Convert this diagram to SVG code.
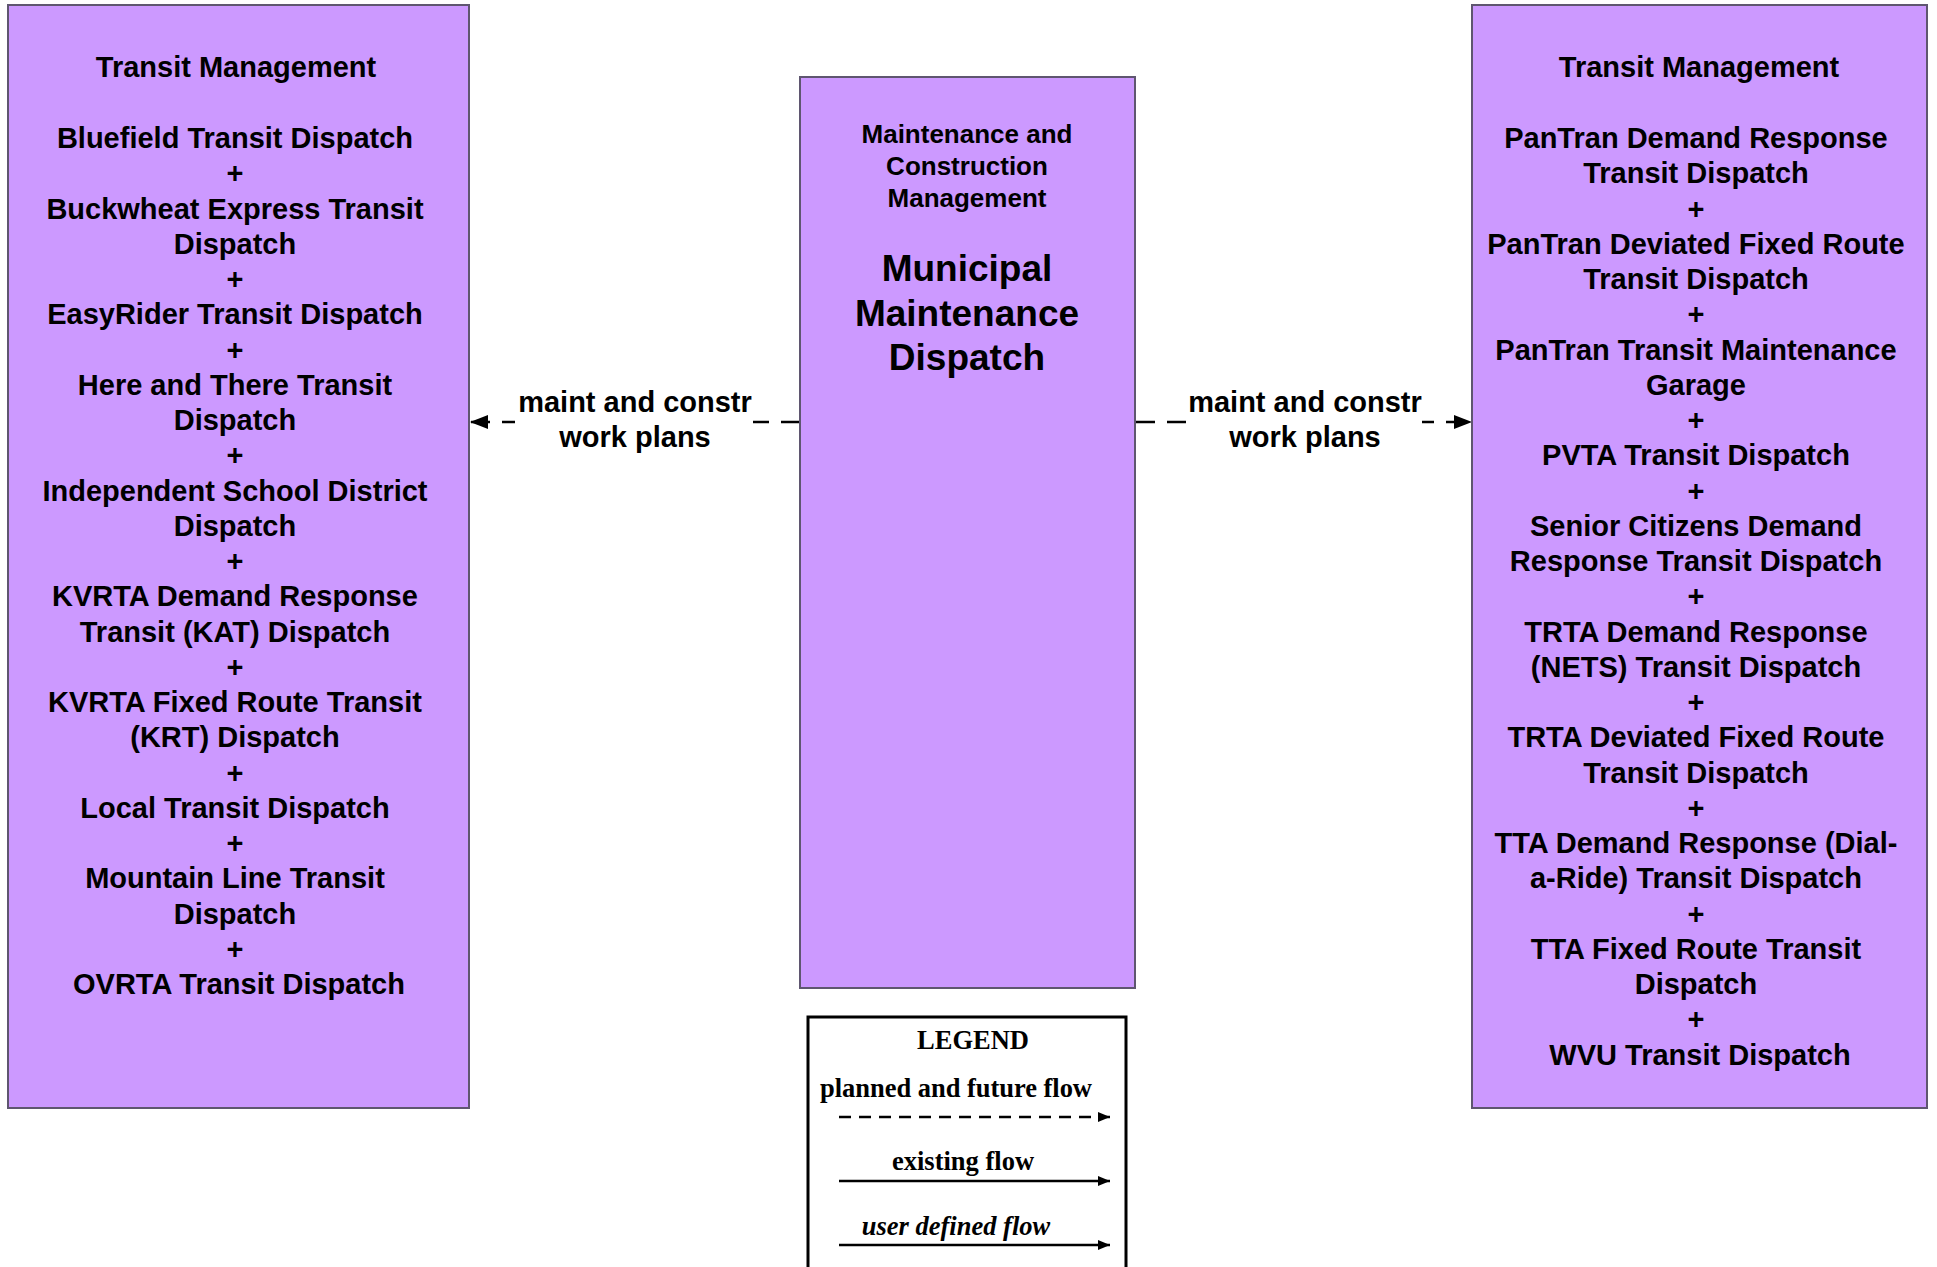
<svg xmlns="http://www.w3.org/2000/svg" width="1937" height="1267" viewBox="0 0 1937 1267">
<style>
.box{fill:#CC99FF;stroke:#5f5670;stroke-width:2}
.t{font-family:"Liberation Sans",Arial,sans-serif;font-weight:bold;font-size:29px;fill:#000;text-anchor:middle}
.sub{font-size:26px}
.big{font-size:37px}
.flow{fill:none;stroke:#000;stroke-width:2.5;stroke-dasharray:19,12}
.lbg{fill:#fff}
.lg{font-family:"Liberation Serif","Times New Roman",serif;font-weight:bold;font-size:26.5px;fill:#000;text-anchor:middle}
</style>
<defs>
<marker id="ah" viewBox="0 0 18 14" refX="18" refY="7" markerWidth="18" markerHeight="14" markerUnits="userSpaceOnUse" orient="auto">
<path d="M0,0 L18,7 L0,14 Z" fill="#000"/>
</marker>
<marker id="sah" viewBox="0 0 12 10" refX="12" refY="5" markerWidth="12" markerHeight="10" markerUnits="userSpaceOnUse" orient="auto">
<path d="M0,0 L12,5 L0,10 Z" fill="#000"/>
</marker>
</defs>
<rect width="1937" height="1267" fill="#fff"/>

<g id="connectors">
<g id="flow-left">
<path class="flow" d="M800,422 L470,422" marker-end="url(#ah)"/>
<rect class="lbg" x="515" y="386" width="238" height="70"/>
<text class="t"><tspan x="635" y="412">maint and constr</tspan><tspan x="635" y="447">work plans</tspan></text>
</g>
<g id="flow-right">
<path class="flow" d="M1136,422 L1472,422" marker-end="url(#ah)"/>
<rect class="lbg" x="1187" y="386" width="235" height="70"/>
<text class="t"><tspan x="1305" y="412">maint and constr</tspan><tspan x="1305" y="447">work plans</tspan></text>
</g>
</g>

<g id="node-left">
<rect class="box" x="8" y="5" width="461" height="1103"/>
<text class="t"><tspan x="240" y="77">Transit Management</tspan>
<tspan x="239" y="148">Bluefield Transit Dispatch</tspan>
<tspan x="239" dy="35.25">+</tspan>
<tspan x="239" dy="35.25">Buckwheat Express Transit</tspan>
<tspan x="239" dy="35.25">Dispatch</tspan>
<tspan x="239" dy="35.25">+</tspan>
<tspan x="239" dy="35.25">EasyRider Transit Dispatch</tspan>
<tspan x="239" dy="35.25">+</tspan>
<tspan x="239" dy="35.25">Here and There Transit</tspan>
<tspan x="239" dy="35.25">Dispatch</tspan>
<tspan x="239" dy="35.25">+</tspan>
<tspan x="239" dy="35.25">Independent School District</tspan>
<tspan x="239" dy="35.25">Dispatch</tspan>
<tspan x="239" dy="35.25">+</tspan>
<tspan x="239" dy="35.25">KVRTA Demand Response</tspan>
<tspan x="239" dy="35.25">Transit (KAT) Dispatch</tspan>
<tspan x="239" dy="35.25">+</tspan>
<tspan x="239" dy="35.25">KVRTA Fixed Route Transit</tspan>
<tspan x="239" dy="35.25">(KRT) Dispatch</tspan>
<tspan x="239" dy="35.25">+</tspan>
<tspan x="239" dy="35.25">Local Transit Dispatch</tspan>
<tspan x="239" dy="35.25">+</tspan>
<tspan x="239" dy="35.25">Mountain Line Transit</tspan>
<tspan x="239" dy="35.25">Dispatch</tspan>
<tspan x="239" dy="35.25">+</tspan>
<tspan x="239" dy="35.25">OVRTA Transit Dispatch</tspan>
</text>
</g>

<g id="node-center">
<rect class="box" x="800" y="77" width="335" height="911"/>
<text class="t sub"><tspan x="967" y="143">Maintenance and</tspan><tspan x="967" y="175">Construction</tspan><tspan x="967" y="207">Management</tspan></text>
<text class="t big"><tspan x="967" y="281">Municipal</tspan><tspan x="967" y="325.5">Maintenance</tspan><tspan x="967" y="370">Dispatch</tspan></text>
</g>

<g id="node-right">
<rect class="box" x="1472" y="5" width="455" height="1103"/>
<text class="t"><tspan x="1703" y="77">Transit Management</tspan>
<tspan x="1700" y="148">PanTran Demand Response</tspan>
<tspan x="1700" dy="35.25">Transit Dispatch</tspan>
<tspan x="1700" dy="35.25">+</tspan>
<tspan x="1700" dy="35.25">PanTran Deviated Fixed Route</tspan>
<tspan x="1700" dy="35.25">Transit Dispatch</tspan>
<tspan x="1700" dy="35.25">+</tspan>
<tspan x="1700" dy="35.25">PanTran Transit Maintenance</tspan>
<tspan x="1700" dy="35.25">Garage</tspan>
<tspan x="1700" dy="35.25">+</tspan>
<tspan x="1700" dy="35.25">PVTA Transit Dispatch</tspan>
<tspan x="1700" dy="35.25">+</tspan>
<tspan x="1700" dy="35.25">Senior Citizens Demand</tspan>
<tspan x="1700" dy="35.25">Response Transit Dispatch</tspan>
<tspan x="1700" dy="35.25">+</tspan>
<tspan x="1700" dy="35.25">TRTA Demand Response</tspan>
<tspan x="1700" dy="35.25">(NETS) Transit Dispatch</tspan>
<tspan x="1700" dy="35.25">+</tspan>
<tspan x="1700" dy="35.25">TRTA Deviated Fixed Route</tspan>
<tspan x="1700" dy="35.25">Transit Dispatch</tspan>
<tspan x="1700" dy="35.25">+</tspan>
<tspan x="1700" dy="35.25">TTA Demand Response (Dial-</tspan>
<tspan x="1700" dy="35.25">a-Ride) Transit Dispatch</tspan>
<tspan x="1700" dy="35.25">+</tspan>
<tspan x="1700" dy="35.25">TTA Fixed Route Transit</tspan>
<tspan x="1700" dy="35.25">Dispatch</tspan>
<tspan x="1700" dy="35.25">+</tspan>
<tspan x="1700" dy="35.25">WVU Transit Dispatch</tspan>
</text>
</g>

<g id="legend">
<rect x="808" y="1017" width="318" height="260" fill="#fff" stroke="#000" stroke-width="3"/>
<text class="lg" x="973" y="1049">LEGEND</text>
<text class="lg" x="956" y="1097" textLength="272" lengthAdjust="spacing">planned and future flow</text>
<path d="M839,1117 L1110,1117" stroke="#000" stroke-width="2.5" stroke-dasharray="12,8" marker-end="url(#sah)"/>
<text class="lg" x="963" y="1170">existing flow</text>
<path d="M839,1181 L1110,1181" stroke="#000" stroke-width="2.5" marker-end="url(#sah)"/>
<text class="lg" x="956" y="1235" font-style="italic">user defined flow</text>
<path d="M839,1245 L1110,1245" stroke="#000" stroke-width="2.5" marker-end="url(#sah)"/>
</g>
</svg>
